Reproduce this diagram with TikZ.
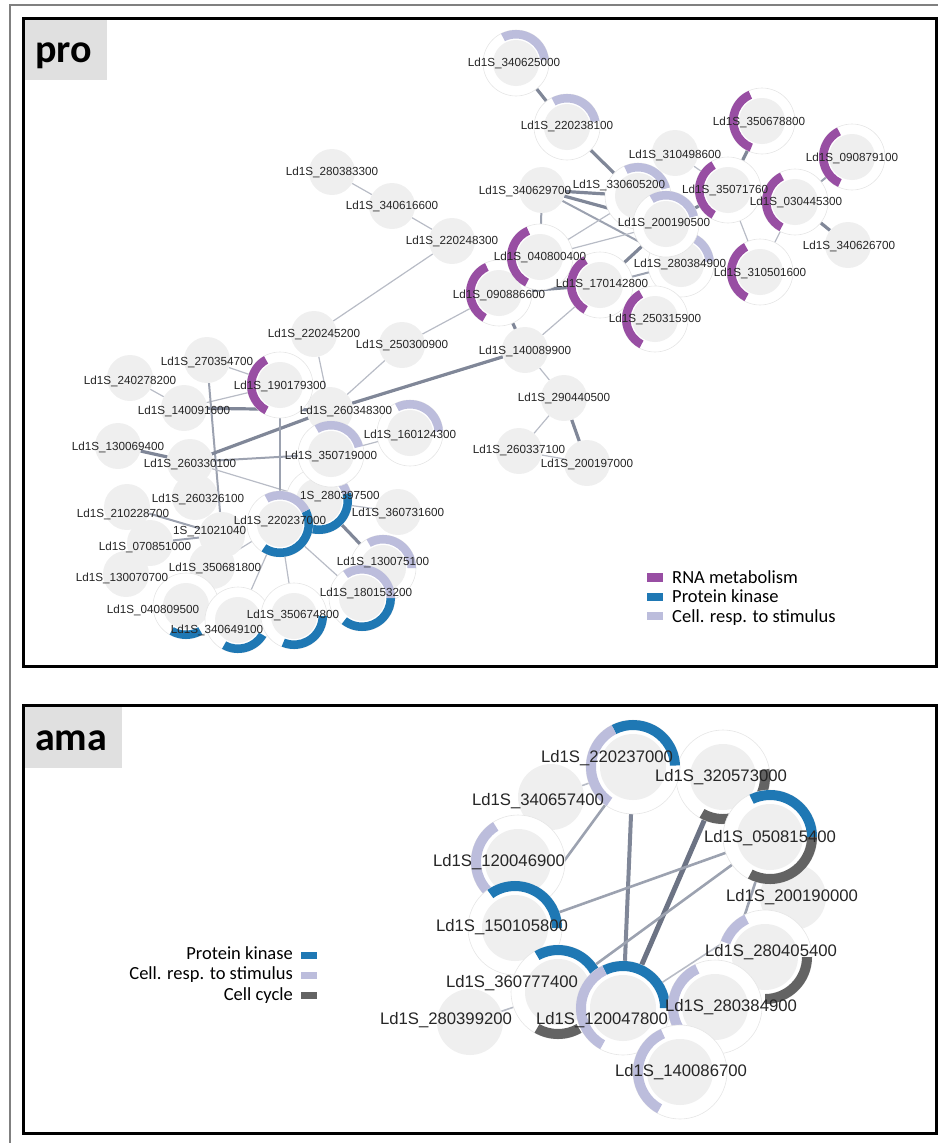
\documentclass[tikz,border=0pt]{standalone}
\usepackage{fontspec}
\newfontfamily\lsans{Liberation Sans}
\newfontfamily\calfont{Carlito}
\usetikzlibrary{calc}
\pgfdeclarelayer{edgelayer}
\pgfdeclarelayer{front}
\pgfsetlayers{edgelayer,main,front}
\definecolor{ngray}{RGB}{239,239,239}
\definecolor{rpur}{RGB}{152,78,163}
\definecolor{rblue}{RGB}{31,120,180}
\definecolor{rlav}{RGB}{188,189,220}
\definecolor{rdark}{RGB}{99,99,99}
\definecolor{ethin}{RGB}{184,188,198}
\definecolor{emed}{RGB}{156,162,176}
\definecolor{ethick}{RGB}{128,135,152}
\definecolor{edark}{RGB}{108,115,132}
\definecolor{boxgray}{RGB}{224,224,224}
\definecolor{framegray}{RGB}{128,128,128}
\definecolor{ringline}{RGB}{230,230,230}
\def\ringout{33pt}
\def\ringin{24.5pt}
\newcommand\rnode[3]{\fill[white] (#2) circle[radius=\ringout]; \draw[ringedge] (#2) circle[radius=\ringout]; \node[#3] (#1) at (#2) {};}
\newcommand\seg[4]{\fill[#2] ($(#1.center)+(#3:\ringout)$) arc[start angle=#3,end angle=#4,radius=\ringout] -- ($(#1.center)+(#4:\ringin)$) arc[start angle=#4,end angle=#3,radius=\ringin] -- cycle;}
\tikzset{
 pnA/.style={circle,fill=ngray,minimum size=46pt,inner sep=0pt,draw=none},
 pnB/.style={circle,fill=ngray,minimum size=66pt,inner sep=0pt,draw=none},
 ringedge/.style={draw=ringline,line width=0.6pt},
 labA/.style={font=\lsans\fontsize{11.7}{13}\selectfont,inner sep=0pt,text=black!85},
 labB/.style={font=\lsans\fontsize{16.7}{18}\selectfont,inner sep=0pt,text=black!85},
 legtext/.style={font=\calfont\fontsize{18.5}{20}\selectfont,inner sep=0pt},
 et/.style={line width=1.2pt,draw=ethin},
 em/.style={line width=2pt,draw=emed},
 ek/.style={line width=3.2pt,draw=ethick},
 bt/.style={line width=1.6pt,draw=ethin},
 bm/.style={line width=2.6pt,draw=emed},
 bk/.style={line width=4pt,draw=ethick},
 bkk/.style={line width=5pt,draw=edark},
 paneltitle/.style={font=\calfont\bfseries\fontsize{40}{40}\selectfont,inner sep=0pt,anchor=base west}
}
\begin{document}
\begin{tikzpicture}[x=1pt,y=-1pt]
\useasboundingbox (0,0) rectangle (938,1143);
% frames
\draw[framegray,line width=2pt] (10,1143) -- (10,5) -- (938,5);
\fill[boxgray] (24.5,19.5) rectangle (107,80);
\fill[boxgray] (24.5,706.5) rectangle (122,768);
\node[paneltitle] (tpro) at (35,62) {pro};
\node[paneltitle] (tama) at (35,750) {ama};
% ===== top panel: plain nodes
\node[pnA] (p280383300) at (332,172) {};
\node[pnA] (p340616600) at (392,206) {};
\node[pnA] (p220248300) at (452,241) {};
\node[pnA] (p310498600) at (675,153) {};
\node[pnA] (p340629700) at (542,190) {};
\node[pnA] (p340626700) at (848,245) {};
\node[pnA] (p220245200) at (314,334) {};
\node[pnA] (p250300900) at (402,345) {};
\node[pnA] (p140089900) at (525,350) {};
\node[pnA] (p290440500) at (564,398) {};
\node[pnA] (p260337100) at (519,451) {};
\node[pnA] (p200197000) at (587,463) {};
\node[pnA] (p270354700) at (207,360) {};
\node[pnA] (p240278200) at (130,378) {};
\node[pnA] (p140091600) at (184,408) {};
\node[pnA] (p260348300) at (330,410) {};
\node[pnA] (p130069400) at (118,446) {};
\node[pnA] (p260330100) at (190,462) {};
\node[pnA] (p260326100) at (195,497) {};
\node[pnA] (p210228700) at (127,507) {};
\node[pnA] (p360731600) at (398,512) {};
\node[pnA] (p210210400) at (222,535) {};
\node[pnA] (p070851000) at (150,543) {};
\node[pnA] (p350681800) at (212,566) {};
\node[pnA] (p130070700) at (126,574) {};
% ===== top panel: ringed nodes
\rnode{p340625000}{516,63}{pnA} \seg{p340625000}{rlav}{6}{117}
\rnode{p220238100}{567,127}{pnA} \seg{p220238100}{rlav}{11}{118}
\rnode{p280384900}{681,264}{pnA} \seg{p280384900}{rlav}{5}{100}
\rnode{p330605200}{638,196}{pnA} \seg{p330605200}{rlav}{15}{115}
\rnode{p200190500}{666,224}{pnA} \seg{p200190500}{rlav}{15}{120}
\rnode{p350678800}{762,121}{pnA} \seg{p350678800}{rpur}{114}{248}
\rnode{p350717600}{728,190}{pnA} \seg{p350717600}{rpur}{120}{240}
\rnode{p030445300}{795,202}{pnA} \seg{p030445300}{rpur}{117}{242}
\rnode{p090879100}{852,157}{pnA} \seg{p090879100}{rpur}{117}{245}
\rnode{p310501600}{760,272}{pnA} \seg{p310501600}{rpur}{119}{242}
\rnode{p090886600}{499,293}{pnA} \seg{p090886600}{rpur}{115}{240}
\rnode{p040800400}{540,257}{pnA} \seg{p040800400}{rpur}{114}{243}
\rnode{p170142800}{600,285}{pnA} \seg{p170142800}{rpur}{120}{240}
\rnode{p250315900}{655,319}{pnA} \seg{p250315900}{rpur}{119}{242}
\rnode{p160124300}{410,433}{pnA} \seg{p160124300}{rlav}{3}{117}
\rnode{p190179300}{280,385}{pnA} \seg{p190179300}{rpur}{119}{242}
\rnode{p280397500}{319,501}{pnA} \seg{p280397500}{rblue}{-115}{15} \seg{p280397500}{rlav}{15}{50}
\rnode{p350719000}{331,454}{pnA} \seg{p350719000}{rlav}{14}{120}
\rnode{p220237000}{280,524}{pnA} \seg{p220237000}{rblue}{-124}{27} \seg{p220237000}{rlav}{27}{118}
\rnode{p130075100}{383,568}{pnA} \seg{p130075100}{rlav}{0}{120}
\rnode{p040809500}{186,606}{pnA} \seg{p040809500}{rblue}{240}{300}
\rnode{p340649100}{238,620}{pnA} \seg{p340649100}{rblue}{-119}{-31}
\rnode{p350674800}{294,616}{pnA} \seg{p350674800}{rblue}{-112}{0}
\rnode{p180153200}{362,598}{pnA} \seg{p180153200}{rblue}{-128}{0} \seg{p180153200}{rlav}{0}{125}
% ===== top panel edges
\begin{pgfonlayer}{edgelayer}
\draw[ek] (p340625000) -- (p220238100);
\draw[ek] (p220238100) -- (p200190500);
\draw[ek] (p340629700) -- (p330605200);
\draw[ek] (p340629700) -- (p200190500);
\draw[em] (p340629700) -- (p280384900);
\draw[em] (p340629700) -- (p040800400);
\draw[et] (p040800400) -- (p330605200);
\draw[et] (p040800400) -- (p200190500);
\draw[ek] (p170142800) -- (p200190500);
\draw[em] (p170142800) -- (p280384900);
\draw[ek] (p090886600) -- (p170142800);
\draw[et] (p090886600) -- (p250300900);
\draw[ek] (p090886600) -- (p140089900);
\draw[et] (p170142800) -- (p140089900);
\draw[ek] (p200190500) -- (p350717600);
\draw[ek] (p350717600) -- (p350678800);
\draw[et] (p350717600) -- (p310501600);
\draw[et] (p030445300) -- (p310501600);
\draw[ek] (p030445300) -- (p340626700);
\draw[em] (p030445300) -- (p090879100);
\draw[et] (p350717600) -- (p310498600);
\draw[et] (p220248300) -- (p340616600);
\draw[et] (p340616600) -- (p280383300);
\draw[et] (p220248300) -- (p220245200);
\draw[et] (p140089900) -- (p290440500);
\draw[et] (p290440500) -- (p260337100);
\draw[ek] (p290440500) -- (p200197000);
\draw[et] (p260337100) -- (p200197000);
\draw[ek] (p140089900) -- (p260348300);
\draw[et] (p250300900) -- (p260348300);
\draw[et] (p220245200) -- (p260348300);
\draw[et] (p190179300) -- (p270354700);
\draw[ek] (p140091600) -- (p260348300);
\draw[et] (p140091600) -- (p190179300);
\draw[et] (p240278200) -- (p140091600);
\draw[em] (p270354700) -- (p210210400);
\draw[ek] (p130069400) -- (p260330100);
\draw[ek] (p260330100) -- (p260348300);
\draw[em] (p260330100) -- (p350719000);
\draw[et] (p260330100) -- (p280397500);
\draw[em] (p190179300) -- (p220237000);
\draw[et] (p350719000) -- (p160124300);
\draw[em] (p210228700) -- (p210210400);
\draw[em] (p070851000) -- (p210210400);
\draw[et] (p220237000) -- (p350681800);
\draw[et] (p220237000) -- (p340649100);
\draw[et] (p220237000) -- (p350674800);
\draw[et] (p220237000) -- (p180153200);
\draw[ek] (p280397500) -- (p130075100);
\draw[et] (p280397500) -- (p360731600);
\end{pgfonlayer}
% ===== top panel labels
\begin{pgfonlayer}{front}
\node[labA] (l340625000) at (514,63) {Ld1S\_340625000};
\node[labA] (l220238100) at (567,126) {Ld1S\_220238100};
\node[labA] (l310498600) at (675,155) {Ld1S\_310498600};
\node[labA] (l350678800) at (759,122) {Ld1S\_350678800};
\node[labA] (l090879100) at (852,158) {Ld1S\_090879100};
\node[labA] (l280383300) at (332,172) {Ld1S\_280383300};
\node[labA] (l340629700) at (525,191) {Ld1S\_340629700};
\node[labA] (l330605200) at (619,185) {Ld1S\_330605200};
\node[labA,anchor=west] (l350717600) at (682,190) {Ld1S\_35071760};
\node[labA] (l030445300) at (796,202) {Ld1S\_030445300};
\node[labA] (l340616600) at (392,206) {Ld1S\_340616600};
\node[labA] (l200190500) at (664,223) {Ld1S\_200190500};
\node[labA] (l340626700) at (849,246) {Ld1S\_340626700};
\node[labA] (l220248300) at (452,241) {Ld1S\_220248300};
\node[labA] (l040800400) at (540,257) {Ld1S\_040800400};
\node[labA] (l280384900) at (680,264) {Ld1S\_280384900};
\node[labA] (l310501600) at (760,273) {Ld1S\_310501600};
\node[labA] (l090886600) at (499,295) {Ld1S\_090886600};
\node[labA] (l170142800) at (602,284) {Ld1S\_170142800};
\node[labA] (l250315900) at (655,319) {Ld1S\_250315900};
\node[labA] (l220245200) at (314,334) {Ld1S\_220245200};
\node[labA] (l250300900) at (402,345) {Ld1S\_250300900};
\node[labA] (l140089900) at (525,351) {Ld1S\_140089900};
\node[labA] (l270354700) at (207,362) {Ld1S\_270354700};
\node[labA] (l190179300) at (280,386) {Ld1S\_190179300};
\node[labA] (l240278200) at (130,381) {Ld1S\_240278200};
\node[labA] (l140091600) at (184,411) {Ld1S\_140091600};
\node[labA] (l260348300) at (346,411) {Ld1S\_260348300};
\node[labA] (l290440500) at (564,398) {Ld1S\_290440500};
\node[labA] (l160124300) at (410,435) {Ld1S\_160124300};
\node[labA] (l130069400) at (118,447) {Ld1S\_130069400};
\node[labA] (l260330100) at (190,464) {Ld1S\_260330100};
\node[labA] (l350719000) at (331,456) {Ld1S\_350719000};
\node[labA] (l260337100) at (519,450) {Ld1S\_260337100};
\node[labA] (l200197000) at (587,464) {Ld1S\_200197000};
\node[labA] (l260326100) at (198,499) {Ld1S\_260326100};
\node[labA,anchor=west] (l280397500) at (300,497) {1S\_280397500};
\node[labA] (l210228700) at (123,514) {Ld1S\_210228700};
\node[labA] (l360731600) at (398,513) {Ld1S\_360731600};
\node[labA,anchor=west] (l210210400) at (173,532) {1S\_21021040};
\node[labA] (l220237000) at (280,521) {Ld1S\_220237000};
\node[labA] (l070851000) at (145,547) {Ld1S\_070851000};
\node[labA] (l130075100) at (383,562) {Ld1S\_130075100};
\node[labA] (l350681800) at (215,568) {Ld1S\_350681800};
\node[labA] (l130070700) at (122,578) {Ld1S\_130070700};
\node[labA] (l180153200) at (366,593) {Ld1S\_180153200};
\node[labA] (l040809500) at (153,610) {Ld1S\_040809500};
\node[labA] (l350674800) at (293,615) {Ld1S\_350674800};
\node[labA] (l340649100) at (217,630) {Ld1S\_340649100};
% top legend
\fill[rpur] (647,573) rectangle (663,582);
\fill[rblue] (647,593) rectangle (663,601);
\fill[rlav] (647,612) rectangle (663,620);
\node[legtext,anchor=base west] (lg1) at (672,583) {RNA metabolism};
\node[legtext,anchor=base west] (lg2) at (672,602) {Protein kinase};
\node[legtext,anchor=base west] (lg3) at (672,622) {Cell. resp. to stimulus};
\end{pgfonlayer}
% ===== bottom panel
\def\ringout{47pt}
\def\ringin{37pt}
\node[pnB] (a280399200) at (470,1022) {};
\node[pnB] (a340657400) at (551,797) {};
\node[pnB] (a200190000) at (793,897) {};
\rnode{a320573000}{723,777}{pnB} \seg{a320573000}{rdark}{240}{370}
\rnode{a220237000}{633,767}{pnB} \seg{a220237000}{rblue}{2}{117} \seg{a220237000}{rlav}{117}{236}
\rnode{a120046900}{518,862}{pnB} \seg{a120046900}{rlav}{122}{225}
\rnode{a150105800}{515,928}{pnB} \seg{a150105800}{rblue}{0}{126}
\rnode{a360777400}{558,992}{pnB} \seg{a360777400}{rblue}{20}{120} \seg{a360777400}{rdark}{240}{300}
\rnode{a120047800}{623,1008}{pnB} \seg{a120047800}{rblue}{0}{116} \seg{a120047800}{rlav}{116}{241}
\rnode{a050815400}{770,837}{pnB} \seg{a050815400}{rblue}{0}{116} \seg{a050815400}{rdark}{-118}{0}
\rnode{a280405400}{765,957}{pnB} \seg{a280405400}{rlav}{116}{160} \seg{a280405400}{rdark}{-90}{0}
\rnode{a280384900}{715,1007}{pnB} \seg{a280384900}{rlav}{115}{241}
\rnode{a140086700}{680,1072}{pnB} \seg{a140086700}{rlav}{114}{241}
\begin{pgfonlayer}{edgelayer}
\draw[bt] (a220237000) -- (a340657400);
\draw[bm] (a220237000) -- (a150105800);
\draw[bk] (a220237000) -- (a120047800);
\draw[bkk] (a320573000) -- (a120047800);
\draw[bm] (a050815400) -- (a150105800);
\draw[bm] (a050815400) -- (a360777400);
\draw[bm] (a050815400) -- (a280384900);
\draw[bt] (a200190000) -- (a120047800);
\draw[bt] (a280399200) -- (a360777400);
\end{pgfonlayer}
\begin{pgfonlayer}{front}
\node[labB] (b220237000) at (607,758) {Ld1S\_220237000};
\node[labB] (b320573000) at (721,777) {Ld1S\_320573000};
\node[labB] (b340657400) at (538,801) {Ld1S\_340657400};
\node[labB] (b050815400) at (770,838) {Ld1S\_050815400};
\node[labB] (b120046900) at (499,862) {Ld1S\_120046900};
\node[labB] (b200190000) at (792,897) {Ld1S\_200190000};
\node[labB] (b150105800) at (502,927) {Ld1S\_150105800};
\node[labB] (b280405400) at (771,952) {Ld1S\_280405400};
\node[labB] (b360777400) at (512,983) {Ld1S\_360777400};
\node[labB] (b280399200) at (446,1020) {Ld1S\_280399200};
\node[labB] (b120047800) at (602,1020) {Ld1S\_120047800};
\node[labB] (b280384900) at (731,1007) {Ld1S\_280384900};
\node[labB] (b140086700) at (681,1072) {Ld1S\_140086700};
% bottom legend
\node[legtext,anchor=base east] (bg1) at (293,959) {Protein kinase};
\node[legtext,anchor=base east] (bg2) at (293,979) {Cell. resp. to stimulus};
\node[legtext,anchor=base east] (bg3) at (293,1000) {Cell cycle};
\fill[rblue] (301,952) rectangle (317,959);
\fill[rlav] (301,972) rectangle (317,979);
\fill[rdark] (301,992) rectangle (317,999);
% panel frames
\draw[line width=3pt] (23,18) rectangle (936,666);
\draw[line width=3pt] (23,705) rectangle (936,1133);
\end{pgfonlayer}
\end{tikzpicture}
\end{document}
